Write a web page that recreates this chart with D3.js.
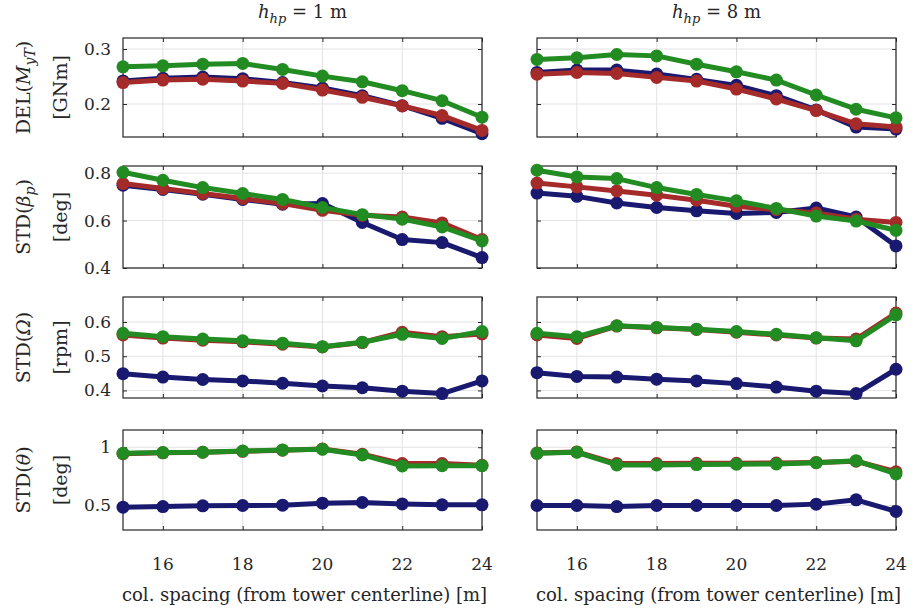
<!DOCTYPE html>
<html>
<head>
<meta charset="utf-8">
<script src="https://cdn.jsdelivr.net/npm/d3@7"></script>
<style>
  body { margin: 0; background: #fff; }
  text { font-family: "DejaVu Serif", "Liberation Serif", serif; fill: #262626; }
</style>
</head>
<body>
<div id="chart"></div>
<script>
var width = 913, height = 612;

// column spacing (from tower centerline) [m]
var spacing = [15, 16, 17, 18, 19, 20, 21, 22, 23, 24];
var xTicks = [16, 18, 20, 22, 24];

// DEL(M_yT) [GNm]
var delBlue1  = [0.242, 0.247, 0.249, 0.246, 0.239, 0.229, 0.215, 0.197, 0.174, 0.146];
var delRed1   = [0.239, 0.2435, 0.245, 0.2417, 0.2375, 0.2254, 0.2122, 0.1965, 0.179, 0.152];
var delGreen1 = [0.2676, 0.2694, 0.2724, 0.2737, 0.2629, 0.2507, 0.2404, 0.2242, 0.206, 0.176];
var delBlue8  = [0.2574, 0.2616, 0.2616, 0.2544, 0.2448, 0.2339, 0.2151, 0.1893, 0.158, 0.1544];
var delRed8   = [0.2543, 0.2574, 0.2556, 0.2484, 0.2417, 0.2272, 0.2091, 0.188, 0.164, 0.158];
var delGreen8 = [0.281, 0.284, 0.290, 0.2875, 0.2724, 0.2585, 0.2435, 0.2164, 0.1905, 0.1748];

// STD(beta_p) [deg]
var pitchBlue1  = [0.749, 0.731, 0.711, 0.689, 0.669, 0.672, 0.592, 0.520, 0.507, 0.444];
var pitchRed1   = [0.756, 0.735, 0.714, 0.693, 0.672, 0.643, 0.622, 0.615, 0.590, 0.520];
var pitchGreen1 = [0.8035, 0.770, 0.739, 0.714, 0.689, 0.655, 0.625, 0.606, 0.573, 0.514];
var pitchBlue8  = [0.716, 0.702, 0.674, 0.655, 0.641, 0.630, 0.634, 0.653, 0.615, 0.493];
var pitchRed8   = [0.758, 0.742, 0.725, 0.707, 0.686, 0.660, 0.646, 0.632, 0.606, 0.592];
var pitchGreen8 = [0.812, 0.784, 0.777, 0.739, 0.710, 0.683, 0.651, 0.619, 0.598, 0.559];

// STD(Omega) [rpm]
var rotBlue1  = [0.449, 0.439, 0.432, 0.428, 0.421, 0.413, 0.408, 0.398, 0.391, 0.428];
var rotRed1   = [0.562, 0.553, 0.547, 0.542, 0.535, 0.527, 0.540, 0.570, 0.557, 0.565];
var rotGreen1 = [0.567, 0.557, 0.550, 0.545, 0.538, 0.528, 0.541, 0.564, 0.552, 0.572];
var rotBlue8  = [0.452, 0.441, 0.439, 0.433, 0.428, 0.420, 0.410, 0.398, 0.391, 0.462];
var rotRed8   = [0.562, 0.552, 0.588, 0.583, 0.578, 0.570, 0.562, 0.553, 0.550, 0.626];
var rotGreen8 = [0.567, 0.557, 0.589, 0.584, 0.579, 0.572, 0.564, 0.554, 0.545, 0.621];

// STD(theta) [deg]
var thBlue1  = [0.486, 0.491, 0.497, 0.500, 0.503, 0.520, 0.526, 0.514, 0.506, 0.506];
var thRed1   = [0.945, 0.952, 0.957, 0.965, 0.975, 0.985, 0.940, 0.860, 0.860, 0.845];
var thGreen1 = [0.948, 0.954, 0.957, 0.968, 0.977, 0.983, 0.934, 0.840, 0.842, 0.842];
var thBlue8  = [0.500, 0.500, 0.491, 0.500, 0.500, 0.500, 0.500, 0.512, 0.549, 0.449];
var thRed8   = [0.950, 0.960, 0.860, 0.860, 0.862, 0.862, 0.865, 0.870, 0.880, 0.790];
var thGreen8 = [0.948, 0.957, 0.848, 0.848, 0.851, 0.854, 0.857, 0.868, 0.885, 0.771];

var colors = ["#191970", "#a52a2a", "#228b22"];

var rows = [
  { top: 38, bottom: 137, domain: [0.14, 0.32], ticks: [0.2, 0.3], fmt: ".1f",
    label: ["DEL(", "M", "yT", ")"], unit: "[GNm]",
    series: [[delBlue1, delRed1, delGreen1], [delBlue8, delRed8, delGreen8]] },
  { top: 166, bottom: 268, domain: [0.4, 0.83], ticks: [0.4, 0.6, 0.8], fmt: ".1f",
    label: ["STD(", "β", "p", ")"], unit: "[deg]",
    series: [[pitchBlue1, pitchRed1, pitchGreen1], [pitchBlue8, pitchRed8, pitchGreen8]] },
  { top: 297, bottom: 398, domain: [0.378, 0.673], ticks: [0.4, 0.5, 0.6], fmt: ".1f",
    label: ["STD(", "Ω", "", ")"], unit: "[rpm]",
    series: [[rotBlue1, rotRed1, rotGreen1], [rotBlue8, rotRed8, rotGreen8]] },
  { top: 430, bottom: 530, domain: [0.29, 1.148], ticks: [0.5, 1], fmt: "",
    label: ["STD(", "θ", "", ")"], unit: "[deg]",
    series: [[thBlue1, thRed1, thGreen1], [thBlue8, thRed8, thGreen8]] }
];

var cols = [{ left: 123, right: 482, title: "1" }, { left: 537, right: 896, title: "8" }];

var svg = d3.select("#chart").append("svg")
  .attr("width", width)
  .attr("height", height);

cols.forEach(function(col, ci) {
  var x = d3.scaleLinear().domain([15, 24]).range([col.left, col.right]);

  // column title
  var t = svg.append("text")
    .attr("x", (col.left + col.right) / 2)
    .attr("y", 18)
    .attr("text-anchor", "middle")
    .style("font-size", "18px");
  t.append("tspan").attr("font-style", "italic").text("h");
  t.append("tspan").attr("font-style", "italic").attr("dy", 5).style("font-size", "13px").text("hp");
  t.append("tspan").attr("dy", -5).text(" = " + col.title + " m");

  rows.forEach(function(row, ri) {
    var y = d3.scaleLinear().domain(row.domain).range([row.bottom, row.top]);
    var g = svg.append("g");

    // grid
    g.selectAll(".gx").data(xTicks).enter().append("line")
      .attr("x1", function(d) { return x(d); }).attr("x2", function(d) { return x(d); })
      .attr("y1", row.top).attr("y2", row.bottom)
      .attr("stroke", "#e3e3e3").attr("stroke-width", 1);
    g.selectAll(".gy").data(row.ticks).enter().append("line")
      .attr("x1", col.left).attr("x2", col.right)
      .attr("y1", function(d) { return y(d); }).attr("y2", function(d) { return y(d); })
      .attr("stroke", "#e3e3e3").attr("stroke-width", 1);

    // box with inward ticks
    g.append("rect")
      .attr("x", col.left).attr("y", row.top)
      .attr("width", col.right - col.left).attr("height", row.bottom - row.top)
      .attr("fill", "none").attr("stroke", "#262626").attr("stroke-width", 1.2);

    g.append("g").attr("transform", "translate(0," + row.bottom + ")")
      .call(d3.axisBottom(x).tickValues(xTicks).tickSize(-4).tickFormat(""))
      .call(function(a) { a.select(".domain").remove(); a.selectAll("line").attr("stroke", "#262626"); });
    g.append("g").attr("transform", "translate(0," + row.top + ")")
      .call(d3.axisTop(x).tickValues(xTicks).tickSize(-4).tickFormat(""))
      .call(function(a) { a.select(".domain").remove(); a.selectAll("line").attr("stroke", "#262626"); });
    g.append("g").attr("transform", "translate(" + col.left + ",0)")
      .call(d3.axisLeft(y).tickValues(row.ticks).tickSize(-4).tickFormat(""))
      .call(function(a) { a.select(".domain").remove(); a.selectAll("line").attr("stroke", "#262626"); });
    g.append("g").attr("transform", "translate(" + col.right + ",0)")
      .call(d3.axisRight(y).tickValues(row.ticks).tickSize(-4).tickFormat(""))
      .call(function(a) { a.select(".domain").remove(); a.selectAll("line").attr("stroke", "#262626"); });

    // y tick labels only on the left column
    if (ci === 0) {
      g.selectAll(".yl").data(row.ticks).enter().append("text")
        .attr("x", col.left - 12)
        .attr("y", function(d) { return y(d); })
        .attr("dy", "0.35em")
        .attr("text-anchor", "end")
        .style("font-size", "17px")
        .text(function(d) { return row.fmt ? d3.format(row.fmt)(d) : String(d); });

      var cy = (row.top + row.bottom) / 2;
      var lab = svg.append("text")
        .attr("transform", "translate(30," + cy + ") rotate(-90)")
        .attr("text-anchor", "middle")
        .style("font-size", "19px");
      lab.append("tspan").text(row.label[0]);
      lab.append("tspan").attr("font-style", "italic").text(row.label[1]);
      if (row.label[2]) {
        lab.append("tspan").attr("font-style", "italic").attr("dy", 5).style("font-size", "14px").text(row.label[2]);
        lab.append("tspan").attr("dy", -5).text(row.label[3]);
      } else {
        lab.append("tspan").text(row.label[3]);
      }
      svg.append("text")
        .attr("transform", "translate(67," + cy + ") rotate(-90)")
        .attr("text-anchor", "middle")
        .style("font-size", "19px")
        .text(row.unit);
    }

    // series: blue, red, green
    var line = d3.line()
      .x(function(d, i) { return x(spacing[i]); })
      .y(function(d) { return y(d); });

    row.series[ci].forEach(function(vals, si) {
      g.append("path")
        .datum(vals)
        .attr("fill", "none")
        .attr("stroke", colors[si])
        .attr("stroke-width", 5)
        .attr("stroke-linejoin", "round")
        .attr("d", line);
      g.selectAll(".m" + si).data(vals).enter().append("circle")
        .attr("cx", function(d, i) { return x(spacing[i]); })
        .attr("cy", function(d) { return y(d); })
        .attr("r", 6.5)
        .attr("fill", colors[si]);
    });

    // x tick labels under the bottom row
    if (ri === rows.length - 1) {
      g.selectAll(".xl").data(xTicks).enter().append("text")
        .attr("x", function(d) { return x(d); })
        .attr("y", 570)
        .attr("text-anchor", "middle")
        .style("font-size", "17px")
        .text(function(d) { return d; });
      svg.append("text")
        .attr("x", (col.left + col.right) / 2 + 2)
        .attr("y", 601)
        .attr("text-anchor", "middle")
        .style("font-size", "18px")
        .text("col. spacing (from tower centerline) [m]");
    }
  });
});
</script>
</body>
</html>
